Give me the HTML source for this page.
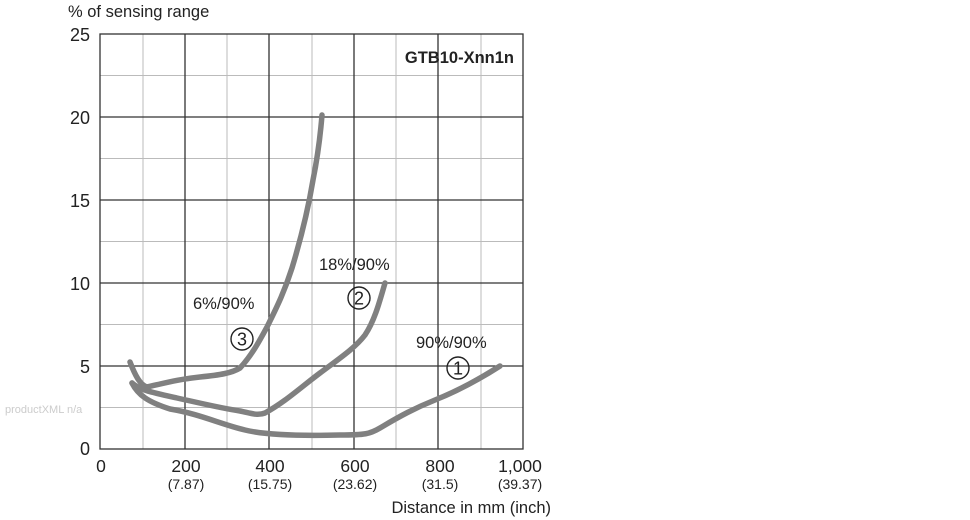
<!DOCTYPE html>
<html><head><meta charset="utf-8"><style>body{margin:0;background:#fff}svg{display:block}text{font-family:"Liberation Sans",sans-serif;fill:#222}</style></head><body>
<svg width="970" height="520" viewBox="0 0 970 520">
<g stroke="#bbb" stroke-width="1">
<line x1="143" y1="34" x2="143" y2="449"/><line x1="227" y1="34" x2="227" y2="449"/><line x1="312" y1="34" x2="312" y2="449"/><line x1="396" y1="34" x2="396" y2="449"/><line x1="481" y1="34" x2="481" y2="449"/>
<line x1="100" y1="75.5" x2="523" y2="75.5"/><line x1="100" y1="158.5" x2="523" y2="158.5"/><line x1="100" y1="241.5" x2="523" y2="241.5"/><line x1="100" y1="324.5" x2="523" y2="324.5"/><line x1="100" y1="407.5" x2="523" y2="407.5"/>
</g>
<g stroke="#333" stroke-width="1.3">
<line x1="185" y1="34" x2="185" y2="449"/><line x1="269" y1="34" x2="269" y2="449"/><line x1="354" y1="34" x2="354" y2="449"/><line x1="438" y1="34" x2="438" y2="449"/>
<line x1="100" y1="117" x2="523" y2="117"/><line x1="100" y1="200" x2="523" y2="200"/><line x1="100" y1="283" x2="523" y2="283"/><line x1="100" y1="366" x2="523" y2="366"/>
<rect x="100" y="34" width="423" height="415" fill="none"/>
</g>
<g fill="none" stroke="#808080" stroke-width="5.5" stroke-linecap="round" stroke-linejoin="round">
<path d="M130,362 C135,375 140,385 147,387 C165,383 180,379 200,377 C220,375 232,373 240,368 C252,355 260,340 267,327 C278,305 285,290 292,268 C302,235 308,210 313,180 C317,160 320,140 322,115"/>
<path d="M132,383 C140,390 150,392 177,398 C200,403 220,408 240,411 C250,413 257,416 265,413 C285,402 300,388 320,373 C340,358 355,348 365,335 C375,320 380,300 385,283"/>
<path d="M132,383 C138,395 148,402 170,409 C200,414 220,424 245,430 C265,435 300,436 340,435 C365,435 370,434 380,428 C400,416 415,408 435,400 C455,392 475,382 500,366"/>
</g>
<g font-size="18" text-anchor="end"><text x="90" y="41">25</text><text x="90" y="124">20</text><text x="90" y="207">15</text><text x="90" y="290">10</text><text x="90" y="373">5</text><text x="90" y="455">0</text></g>
<text x="68" y="17" font-size="16.5">% of sensing range</text>
<g font-size="17.5" text-anchor="middle"><text x="101" y="472">0</text><text x="186" y="472">200</text><text x="270" y="472">400</text><text x="355" y="472">600</text><text x="440" y="472">800</text><text x="520" y="472">1,000</text></g>
<g font-size="14" text-anchor="middle"><text x="186" y="489">(7.87)</text><text x="270" y="489">(15.75)</text><text x="355" y="489">(23.62)</text><text x="440" y="489">(31.5)</text><text x="520" y="489">(39.37)</text></g>
<text x="551" y="513" font-size="16.5" text-anchor="end">Distance in mm (inch)</text>
<text x="514" y="63" font-size="16.5" font-weight="bold" text-anchor="end">GTB10-Xnn1n</text>
<g font-size="16.5"><text x="193" y="309">6%/90%</text><text x="319" y="270">18%/90%</text><text x="416" y="348">90%/90%</text></g>
<g fill="none" stroke="#222" stroke-width="1.4"><circle cx="242" cy="339" r="11"/><circle cx="359" cy="298" r="11"/><circle cx="458" cy="368" r="11"/></g>
<g font-size="18" text-anchor="middle"><text x="242" y="345.5">3</text><text x="359" y="304.5">2</text><text x="458" y="374.5">1</text></g>
<text x="5" y="413" font-size="11" style="fill:#ccc">productXML n/a</text>
</svg></body></html>
